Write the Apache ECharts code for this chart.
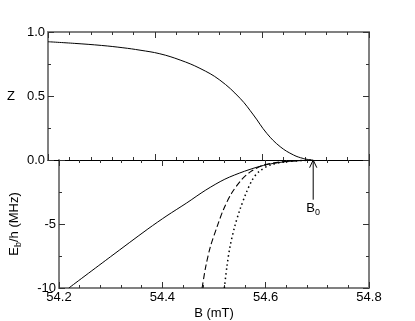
<!DOCTYPE html>
<html><head><meta charset="utf-8">
<script src="https://cdn.jsdelivr.net/npm/echarts@6/dist/echarts.min.js"></script>
<style>html,body{margin:0;padding:0;background:#fff}#c{width:415px;height:321px}</style>
</head><body><div id="c"></div>
<script>
// Top panel: Z vs B
const zB = [54.2, 54.25, 54.3, 54.34, 54.372, 54.409, 54.447, 54.484, 54.521, 54.559, 54.584, 54.609, 54.634, 54.659, 54.677, 54.692];
const zVal = [0.924, 0.911, 0.895, 0.877, 0.858, 0.830, 0.781, 0.716, 0.625, 0.482, 0.352, 0.208, 0.104, 0.039, 0.012, 0.0];
// Bottom panel: Eb/h vs B
const solidB = [54.219, 54.3, 54.372, 54.409, 54.447, 54.484, 54.521, 54.559, 54.596, 54.634, 54.671, 54.692];
const solidE = [-10, -7.55, -5.39, -4.35, -3.36, -2.35, -1.5, -0.88, -0.42, -0.15, -0.04, 0];
const dashB = [54.477, 54.484, 54.493, 54.506, 54.518, 54.534, 54.553, 54.571, 54.596, 54.634, 54.692];
const dashE = [-10, -8.33, -6.77, -5.21, -3.9, -2.6, -1.56, -0.91, -0.39, -0.13, 0];
const dotB = [54.520, 54.525, 54.531, 54.540, 54.550, 54.562, 54.574, 54.587, 54.609, 54.640, 54.692];
const dotE = [-10, -8.33, -6.77, -5.21, -3.9, -2.6, -1.56, -0.91, -0.39, -0.13, 0];
// Arrow marking B0
const arrowB = [54.692, 54.692];
const arrowE = [-3.1, 0];
const headB = [54.685, 54.692, 54.699];
const headE = [-0.6, 0, -0.6];
const xTicks = [54.2, 54.4, 54.6, 54.8];

const pair = (a, b) => a.map((v, i) => [v, b[i]]);
const FONT = 'Liberation Sans, Arial, sans-serif';
const GRAY = '#808080';

function xAx(grid, pos, lineColor, showLabel) {
  return {
    type: 'value', gridIndex: grid, position: pos, min: 54.2, max: 54.8, interval: 0.2,
    axisLine: {show: true, onZero: false, lineStyle: {color: lineColor, width: lineColor === GRAY ? 2 : 1}},
    axisTick: {show: true, inside: true, length: 6, lineStyle: {color: '#333'}},
    minorTick: {show: true, splitNumber: 5, length: 3, lineStyle: {color: '#333'}},
    splitLine: {show: false},
    axisLabel: {show: showLabel, margin: 3, fontFamily: FONT, fontSize: 13, color: '#000',
      formatter: v => xTicks.some(t => Math.abs(t - v) < 1e-6) ? v.toFixed(1) : ''},
    name: showLabel ? 'B (mT)' : '', nameLocation: 'middle', nameGap: 19,
    nameTextStyle: {fontFamily: FONT, fontSize: 13, color: '#000'}
  };
}
function yAx(grid, pos, min, max, interval, showLabel, fmt, name) {
  return {
    type: 'value', gridIndex: grid, position: pos, min, max, interval,
    axisLine: {show: true, onZero: false, lineStyle: {color: GRAY, width: 2}},
    axisTick: {show: true, inside: true, length: 6, lineStyle: {color: '#333'}},
    minorTick: {show: true, splitNumber: 2, length: 3, lineStyle: {color: '#333'}},
    splitLine: {show: false},
    axisLabel: {show: showLabel, margin: 3, fontFamily: FONT, fontSize: 13, color: '#000', formatter: fmt},
    name: name || '', nameLocation: 'middle', nameGap: name === 'Z' ? 33 : 36, nameRotate: name === 'Z' ? 0 : 90,
    nameTextStyle: {fontFamily: FONT, fontSize: 13, color: '#000',
      rich: {a: {fontFamily: FONT, fontSize: 13, color: '#000'},
             s: {fontFamily: FONT, fontSize: 9, color: '#000', padding: [8, 0, 0, 0]}}}
  };
}

const chart = echarts.init(document.getElementById('c'), null, {renderer: 'canvas'});
chart.setOption({
  backgroundColor: '#fff',
  animation: false,
  grid: [
    {left: 48, top: 32, width: 321, height: 128},
    {left: 48, top: 160, width: 321, height: 128}
  ],
  xAxis: [
    xAx(0, 'bottom', '#000', false),
    xAx(0, 'top', GRAY, false),
    xAx(1, 'bottom', GRAY, true),
    xAx(1, 'top', '#000', false)
  ],
  yAxis: [
    yAx(0, 'left', 0, 1, 0.5, true, v => v.toFixed(1), 'Z'),
    yAx(0, 'right', 0, 1, 0.5, false, null, ''),
    yAx(1, 'left', -10, 0, 5, true, v => v === 0 ? '' : String(v), '{a|E}{s|b}{a|/h (MHz)}'),
    yAx(1, 'right', -10, 0, 5, false, null, '')
  ],
  series: [
    {type: 'line', xAxisIndex: 0, yAxisIndex: 0, data: pair(zB, zVal), smooth: 0.4, symbol: 'none',
      lineStyle: {color: '#000', width: 1}},
    {type: 'line', xAxisIndex: 2, yAxisIndex: 2, data: pair(solidB, solidE), smooth: 0.3, symbol: 'none',
      lineStyle: {color: '#000', width: 1}},
    {type: 'line', xAxisIndex: 2, yAxisIndex: 2, data: pair(dashB, dashE), smooth: 0.3, symbol: 'none',
      lineStyle: {color: '#000', width: 1.1, type: [6, 3]}},
    {type: 'line', xAxisIndex: 2, yAxisIndex: 2, data: pair(dotB, dotE), smooth: 0.3, symbol: 'none',
      lineStyle: {color: '#000', width: 1.5, type: [1.5, 3]}},
    {type: 'line', xAxisIndex: 2, yAxisIndex: 2, data: pair(arrowB, arrowE), symbol: 'none',
      lineStyle: {color: '#000', width: 1},
      markPoint: {symbol: 'circle', symbolSize: 0, silent: true,
        data: [{coord: [arrowB[0], arrowE[0]],
          label: {show: true, position: 'bottom', distance: 0, formatter: '{b|B}{s|0}',
            rich: {b: {fontFamily: FONT, fontSize: 13, color: '#000'},
                   s: {fontFamily: FONT, fontSize: 9, color: '#000', padding: [8, 0, 0, 0]}}}}]}},
    {type: 'line', xAxisIndex: 2, yAxisIndex: 2, data: pair(headB, headE), symbol: 'none',
      lineStyle: {color: '#000', width: 1}}
  ]
});
</script></body></html>
